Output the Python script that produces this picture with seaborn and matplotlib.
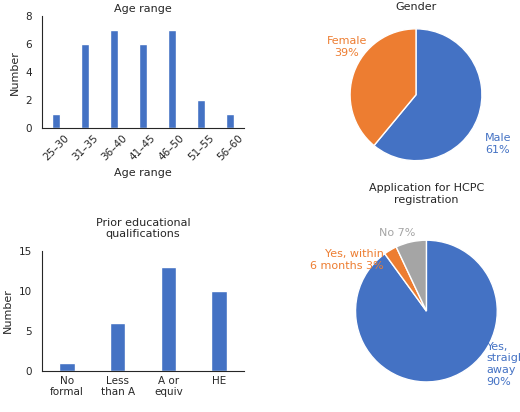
import matplotlib
matplotlib.use("Agg")
import matplotlib.pyplot as plt
import seaborn as sns
import pandas as pd

age_cats = ["25–30", "31–35", "36–40", "41–45", "46–50", "51–55", "56–60"]
age_vals = [1, 6, 7, 6, 7, 2, 1]
edu_cats = ["No\nformal", "Less\nthan A", "A or\nequiv", "HE"]
edu_vals = [1, 6, 13, 10]
gender_labels = ["Male\n61%", "Female\n39%"]
gender_vals = [61, 39]
hcpc_labels = ["Yes,\nstraight\naway\n90%", "Yes, within\n6 months 3%", "No 7%"]
hcpc_vals = [90, 3, 7]

BLUE, ORANGE, GRAY = "#4472C4", "#ED7D31", "#A5A5A5"
sns.set_style("white")
plt.rcParams['font.family'] = ['DejaVu Sans']
plt.rcParams['font.size'] = 8

fig = plt.figure(figsize=(5.2, 4.12), dpi=100)

ax1 = fig.add_axes([0.08, 0.69, 0.39, 0.27])
sns.barplot(x=pd.Categorical(age_cats, categories=age_cats), y=age_vals, color=BLUE, width=0.3, ax=ax1, saturation=1)
ax1.set_ylim(0, 8); ax1.set_yticks([0, 2, 4, 6, 8])
ax1.set_title("Age range", fontsize=8, pad=3)
ax1.set_xlabel("Age range", fontsize=8); ax1.set_ylabel("Number", fontsize=8)
ax1.tick_params(axis='x', rotation=45, labelsize=7.5, length=0)
ax1.tick_params(axis='y', labelsize=7.5)
for s in ["top", "right"]: ax1.spines[s].set_visible(False)

ax2 = fig.add_axes([0.08, 0.1, 0.39, 0.29])
sns.barplot(x=pd.Categorical(edu_cats, categories=edu_cats), y=edu_vals, color=BLUE, width=0.3, ax=ax2, saturation=1)
ax2.set_ylim(0, 15); ax2.set_yticks([0, 5, 10, 15])
ax2.set_title("Prior educational\nqualifications", fontsize=8, pad=10)
ax2.set_ylabel("Number", fontsize=8)
ax2.tick_params(axis='x', labelsize=7.5, length=0)
ax2.tick_params(axis='y', labelsize=7.5)
for s in ["top", "right"]: ax2.spines[s].set_visible(False)

ax3 = fig.add_axes([0.6, 0.57, 0.4, 0.4])
w, t = ax3.pie(gender_vals, colors=[BLUE, ORANGE], startangle=90, counterclock=False,
               labels=gender_labels, textprops=dict(fontsize=8))
for tx, c in zip(t, [BLUE, ORANGE]): tx.set_color(c)
t[0].set_position((1.05, -0.75)); t[0].set_ha("left")
t[1].set_position((-1.05, 0.72)); t[1].set_ha("center")
ax3.set_title("Gender", fontsize=8, pad=2)

ax4 = fig.add_axes([0.62, 0.03, 0.4, 0.43])
w, t = ax4.pie(hcpc_vals, colors=[BLUE, ORANGE, GRAY], startangle=90, counterclock=False,
               labels=hcpc_labels, textprops=dict(fontsize=8))
for tx, c in zip(t, [BLUE, ORANGE, GRAY]): tx.set_color(c)
t[0].set_position((0.85, -0.75)); t[0].set_ha("left")
t[1].set_position((-0.6, 0.72)); t[1].set_ha("right")
t[2].set_position((-0.15, 1.1)); t[2].set_ha("right")
ax4.set_title("Application for HCPC\nregistration", fontsize=8, pad=14)

fig.savefig("out.png", dpi=100)
